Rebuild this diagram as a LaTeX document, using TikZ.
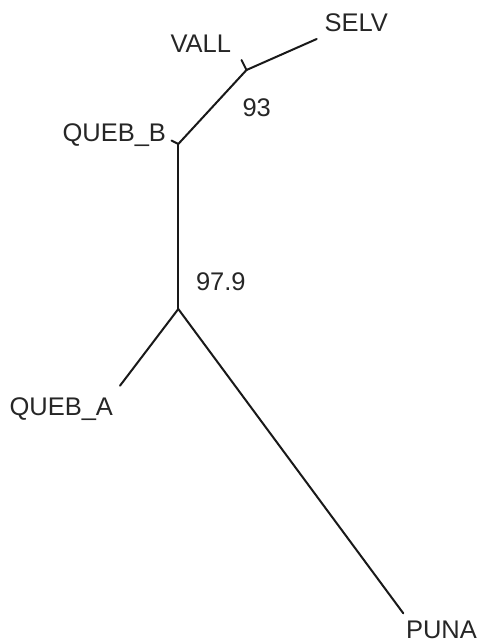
\documentclass[tikz,border=0pt]{standalone}
\usepackage{fontspec}
\setmainfont{Liberation Sans}
\begin{document}
\begin{tikzpicture}[x=1pt,y=-1pt,
  branch/.style={line width=2pt, line cap=round, line join=round, black!90},
  taxon/.style={anchor=base west, inner sep=0pt, outer sep=0pt, text=black!85,
    font=\fontsize{25.5}{30}\selectfont},
  support/.style={taxon}]
  \useasboundingbox (0,0) rectangle (478,643);

  % internal nodes of the tree
  \coordinate (root) at (178.3,309);
  \coordinate (qb) at (178.3,144);
  \coordinate (vs) at (246.5,70);

  % tips
  \coordinate (tipQA) at (120,385.7);
  \coordinate (tipPU) at (403.3,613.3);
  \coordinate (tipQB) at (171.5,140.5);
  \coordinate (tipVA) at (241.5,60);
  \coordinate (tipSE) at (316.7,39);

  % branches
  \draw[branch] (root) -- (tipQA);
  \draw[branch] (root) -- (tipPU);
  \draw[branch] (root) -- (qb);
  \draw[branch] (qb) -- (tipQB);
  \draw[branch] (qb) -- (vs);
  \draw[branch] (vs) -- (tipVA);
  \draw[branch] (vs) -- (tipSE);

  % taxon labels
  \node[taxon] (lVA) at (170.5,52) {VALL};
  \node[taxon] (lSE) at (324.5,31.5) {SELV};
  \node[taxon] (lQB) at (62.5,141.5) {QUEB\_B};
  \node[taxon] (lQA) at (9.5,415) {QUEB\_A};
  \node[taxon] (lPU) at (406,638.5) {PUNA};

  % bootstrap support values
  \node[support] (s93) at (242.5,116) {93};
  \node[support] (s979) at (196,290) {97.9};
\end{tikzpicture}
\end{document}
